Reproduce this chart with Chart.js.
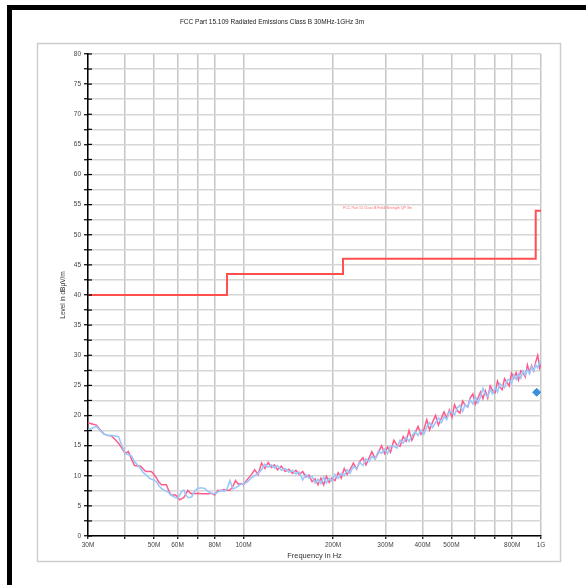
<!DOCTYPE html>
<html>
<head>
<meta charset="utf-8">
<script src="https://cdn.jsdelivr.net/npm/chart.js@4"></script>
<style>
  html, body { margin: 0; padding: 0; background: #fff; }
  canvas { display: block; }
</style>
</head>
<body>
<canvas id="emiChart" width="586" height="585"></canvas>
<script>
// scan frequencies in MHz
const freqMHz = [
  30, 31, 32, 33, 34, 35, 36, 37, 38, 39,
  40, 41, 42, 43, 44, 45, 46, 47, 48, 49,
  50, 51, 52, 53, 54, 55, 56, 57, 58, 59,
  60, 61, 62, 63, 64, 65, 66, 67, 68, 69,
  70, 72, 74, 76, 78, 80, 82, 84, 86, 88, 90, 92, 94, 96, 98,
  100, 103, 106, 109, 112, 115, 118, 121, 124, 127,
  130, 134, 138, 142, 146, 150, 154, 158, 162, 166,
  170, 174, 178, 182, 186, 190, 194, 198, 203, 208,
  213, 218, 223, 228, 234, 240, 246, 252, 258, 264,
  270, 277, 284, 291, 298, 305, 312, 320, 328, 336,
  344, 352, 360, 368, 377, 386, 395, 404, 413, 422,
  432, 442, 452, 462, 472, 482, 492, 502, 512, 523,
  534, 545, 556, 567, 578, 590, 602, 614, 626, 638,
  650, 662, 675, 688, 701, 714, 727, 740, 754, 768,
  782, 796, 810, 825, 840, 855, 870, 885, 900, 915,
  930, 945, 960, 975, 990, 1000
];

// horizontal polarisation (pink trace), dBuV/m
const levelHoriz = [
  18.8, 18.6, 18.4, 17.6, 16.9, 16.7, 16.6, 16.0, 15.4, 14.6,
  13.7, 14.0, 12.8, 11.7, 11.6, 11.6, 11.1, 10.7, 10.7, 10.7,
  10.2, 9.6, 8.9, 8.5, 8.5, 8.5, 7.6, 6.8, 6.8, 6.8,
  6.5, 6.0, 6.2, 6.4, 7.0, 7.6, 7.2, 7.0, 7.1, 7.0,
  7.1, 7.0, 7.0, 7.0, 7.1, 6.8, 7.6, 7.5, 7.7, 7.6, 7.6, 8.2, 9.2, 8.6, 8.7,
  8.5, 9.4, 10.1, 11.0, 10.2, 12.1, 11.2, 12.2, 11.4, 11.8,
  11.0, 11.6, 10.7, 11.1, 10.4, 10.9, 10.2, 10.7, 9.8, 10.1,
  9.0, 9.5, 8.5, 9.6, 8.5, 9.9, 8.9, 9.6, 9.2, 10.5,
  9.6, 11.2, 10.2, 11.0, 12.1, 11.1, 12.4, 13.0, 11.8, 12.9,
  14.0, 12.8, 13.8, 15.0, 13.7, 14.8, 13.9, 15.9, 15.1, 14.9,
  16.5, 15.7, 17.5, 15.9, 17.1, 18.2, 16.9, 17.7, 19.3, 17.6,
  18.9, 20.0, 18.4, 19.5, 20.6, 19.6, 20.9, 19.7, 21.8, 20.8,
  20.4, 22.4, 21.7, 21.4, 22.9, 23.6, 21.9, 22.9, 23.9, 22.8,
  24.1, 22.9, 24.9, 24.1, 23.8, 25.7, 24.7, 24.3, 26.1, 25.5,
  24.9, 27.0, 26.2, 27.1, 25.9, 27.4, 27.1, 26.4, 28.4, 27.2,
  28.3, 27.4, 28.9, 30.0, 27.9, 28.7
];

// vertical polarisation (blue trace), dBuV/m
const levelVert = [
  17.6, 17.9, 18.2, 17.5, 16.9, 16.7, 16.7, 16.6, 16.5, 15.0,
  13.7, 13.5, 13.3, 12.3, 11.8, 11.2, 10.5, 10.2, 9.7, 9.4,
  9.3, 9.0, 8.3, 7.9, 7.6, 7.5, 7.2, 6.8, 6.6, 6.4,
  6.3, 6.8, 7.4, 7.6, 6.8, 6.4, 6.4, 6.5, 7.2, 7.6,
  7.9, 8.0, 7.9, 7.4, 7.1, 7.0, 7.3, 7.6, 7.4, 7.8, 9.2, 7.8, 8.0, 8.3, 8.6,
  8.6, 9.0, 9.6, 10.0, 10.4, 11.0, 11.9, 11.4, 11.8, 11.3,
  11.7, 10.9, 11.2, 10.6, 10.9, 10.3, 10.6, 9.3, 10.2, 9.6,
  9.9, 8.8, 9.4, 8.7, 9.8, 8.8, 9.6, 9.1, 10.2, 9.6,
  10.4, 10.0, 11.0, 10.4, 11.5, 11.2, 12.2, 11.7, 12.8, 12.4,
  13.2, 12.8, 14.1, 13.7, 14.4, 13.7, 15.0, 14.9, 14.6, 15.9,
  15.4, 16.4, 15.7, 16.6, 17.3, 16.7, 17.6, 16.9, 18.1, 18.8,
  18.0, 18.8, 19.6, 18.8, 19.8, 19.3, 20.7, 20.5, 20.1, 21.2,
  21.7, 20.7, 21.8, 21.4, 22.6, 21.9, 23.1, 22.1, 23.1, 24.5,
  23.5, 23.1, 24.3, 23.6, 24.7, 23.9, 25.3, 24.9, 24.6, 25.8,
  26.0, 25.3, 26.7, 26.0, 26.9, 26.2, 27.4, 26.7, 27.6, 26.9,
  28.1, 27.4, 28.4, 27.9, 28.9, 28.5
];

// FCC Part 15 Class B QP 3m limit (steps)
const limitFreq = [30, 88, 88, 216, 216, 960, 960, 1000];
const limitLevel = [40, 40, 43.5, 43.5, 46, 46, 54, 54];

// final measurement marker
const markerFreq = [967];
const markerLevel = [23.85];

const xTickValues = [30, 40, 50, 60, 70, 80, 100, 200, 300, 400, 500, 600, 700, 800, 1000];
const xTickLabels = { 30: '30M', 50: '50M', 60: '60M', 80: '80M', 100: '100M', 200: '200M',
  300: '300M', 400: '400M', 500: '500M', 800: '800M', 1000: '1G' };

const chartTitle = 'FCC Part 15.109 Radiated Emissions Class B 30MHz-1GHz 3m';
const limitName = 'FCC Part 15 Class B Field Strength QP 3m';

const toPoints = (xs, ys) => xs.map((x, i) => ({ x, y: ys[i] }));
const FONT = '"Liberation Sans", Arial, sans-serif';

const pagePlugin = {
  id: 'page',
  beforeDraw(chart) {
    const ctx = chart.ctx;
    ctx.save();
    ctx.fillStyle = '#fff';
    ctx.fillRect(0, 0, chart.width, chart.height);
    // black frame on top and left
    ctx.fillStyle = '#000';
    ctx.fillRect(7, 5, chart.width - 7, 5);
    ctx.fillRect(7, 5, 5, chart.height - 5);
    // grey panel
    ctx.strokeStyle = '#cdcdcd';
    ctx.lineWidth = 1.5;
    ctx.strokeRect(37.5, 43.5, 523, 518);
    ctx.restore();
  },
  afterDraw(chart) {
    const ctx = chart.ctx;
    const ys = chart.scales.y;
    const xs = chart.scales.x;
    ctx.save();
    // tick stubs inside the y axis
    ctx.strokeStyle = '#000';
    ctx.lineWidth = 1.2;
    ys.ticks.forEach(t => {
      const py = ys.getPixelForValue(t.value);
      ctx.beginPath();
      ctx.moveTo(ys.right, py);
      ctx.lineTo(ys.right + 4, py);
      ctx.stroke();
    });
    // title
    ctx.fillStyle = '#222';
    ctx.font = '6.5px ' + FONT;
    ctx.textAlign = 'center';
    ctx.textBaseline = 'middle';
    ctx.fillText(chartTitle, 272, 22);
    // limit line label
    ctx.fillStyle = '#ff6b6b';
    ctx.font = '3.6px ' + FONT;
    ctx.textAlign = 'left';
    ctx.fillText(limitName, xs.getPixelForValue(216), ys.getPixelForValue(54.4));
    ctx.restore();
  }
};

const ctx = document.getElementById('emiChart').getContext('2d');
new Chart(ctx, {
  type: 'scatter',
  data: {
    datasets: [
      {
        label: 'Final',
        data: toPoints(markerFreq, markerLevel),
        showLine: false,
        pointStyle: 'rectRot',
        pointRadius: 4,
        backgroundColor: '#3b8fdc',
        borderColor: '#3b8fdc'
      },
      {
        label: 'Vertical',
        data: toPoints(freqMHz, levelVert),
        showLine: true,
        borderColor: '#99c9fb',
        borderWidth: 1.6,
        pointRadius: 0
      },
      {
        label: 'Horizontal',
        data: toPoints(freqMHz, levelHoriz),
        showLine: true,
        borderColor: '#ff5b8a',
        borderWidth: 1.5,
        pointRadius: 0
      },
      {
        label: limitName,
        data: toPoints(limitFreq, limitLevel),
        showLine: true,
        borderColor: '#ff4f4f',
        borderWidth: 2,
        pointRadius: 0
      }
    ]
  },
  options: {
    responsive: false,
    animation: false,
    layout: { padding: { left: 57, top: 54, right: 45, bottom: 25 } },
    plugins: {
      legend: { display: false },
      tooltip: { enabled: false }
    },
    scales: {
      x: {
        type: 'logarithmic',
        min: 30,
        max: 1000,
        afterBuildTicks: scale => { scale.ticks = xTickValues.map(v => ({ value: v })); },
        afterFit: scale => { scale.height = 24; },
        ticks: {
          autoSkip: false,
          maxRotation: 0,
          padding: 2,
          color: '#444',
          font: { family: FONT, size: 6.5 },
          callback: v => xTickLabels[v] || ''
        },
        grid: { color: '#c6c6c6', lineWidth: 1.5, tickColor: '#000', tickLength: 3, tickWidth: 1.2 },
        border: { color: '#000', width: 1.5 },
        title: {
          display: true,
          text: 'Frequency in Hz',
          color: '#333',
          font: { family: FONT, size: 7.5 },
          padding: { top: 0, bottom: 0 }
        }
      },
      y: {
        min: 0,
        max: 80,
        afterFit: scale => { scale.width = 31; },
        ticks: {
          stepSize: 2.5,
          padding: 3,
          color: '#444',
          font: { family: FONT, size: 6.5 },
          callback: v => (v % 5 === 0 ? v : '')
        },
        grid: { color: '#d6d6d6', lineWidth: 1.5, tickColor: '#000', tickLength: 4, tickWidth: 1.2 },
        border: { color: '#000', width: 1.5 },
        title: {
          display: true,
          text: 'Level in dBµV/m',
          color: '#333',
          font: { family: FONT, size: 6.5 },
          padding: { top: 2, bottom: 0 }
        }
      }
    }
  },
  plugins: [pagePlugin]
});
</script>
</body>
</html>
